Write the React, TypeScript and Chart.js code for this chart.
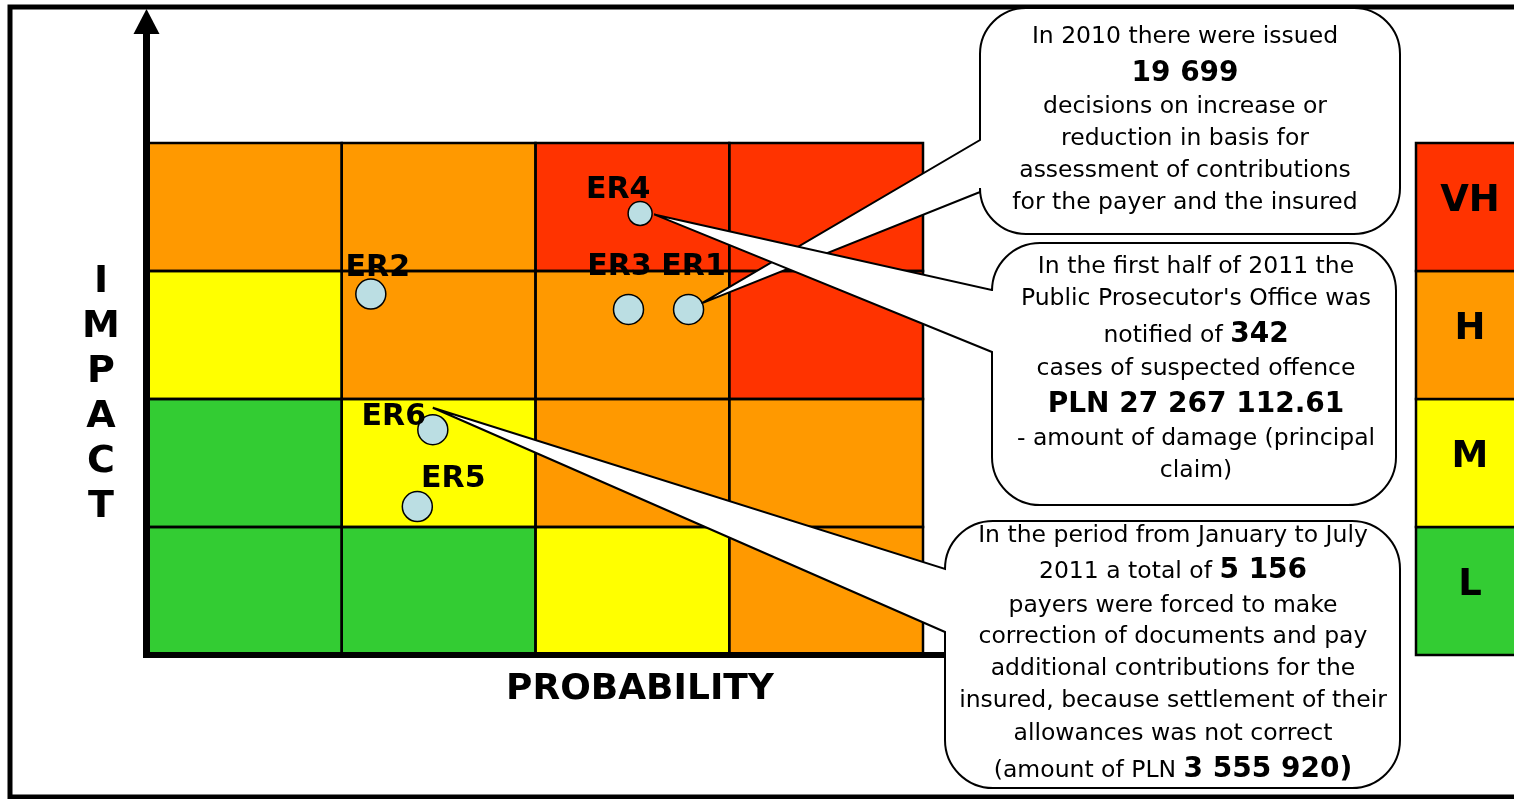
import React, { useEffect, useRef } from "react";
import { Chart, registerables } from "chart.js";

Chart.register(...registerables);

// ---------- data ----------
const riskIds = ["ER1", "ER2", "ER3", "ER4", "ER5", "ER6"];
const probabilityValues = [2.79, 1.15, 2.48, 2.54, 1.39, 1.47];
const impactValues = [2.7, 2.82, 2.7, 3.45, 1.16, 1.76];

// impact levels from bottom (L) to top (VH)
const impactLevels = ["L", "M", "H", "VH"];
// risk level of each matrix cell: rows bottom→top, columns left→right (probability)
const matrixRowL = ["L", "L", "M", "H"];
const matrixRowM = ["L", "M", "H", "H"];
const matrixRowH = ["M", "H", "H", "VH"];
const matrixRowVH = ["H", "H", "VH", "VH"];

const xAxisTitle = "PROBABILITY";
const yAxisTitle = "IMPACT";

type Seg = { t: string; b?: boolean };
const callout1Lines: Seg[][] = [
  [{ t: "In 2010 there were issued" }],
  [{ t: "19 699", b: true }],
  [{ t: "decisions on increase or" }],
  [{ t: "reduction in basis for" }],
  [{ t: "assessment of contributions" }],
  [{ t: "for the payer and the insured" }],
];
const callout2Lines: Seg[][] = [
  [{ t: "In the first half of 2011 the" }],
  [{ t: "Public Prosecutor's Office was" }],
  [{ t: "notified of " }, { t: "342", b: true }],
  [{ t: "cases of suspected offence" }],
  [{ t: "PLN 27 267 112.61", b: true }],
  [{ t: "- amount of damage (principal" }],
  [{ t: "claim)" }],
];
const callout3Lines: Seg[][] = [
  [{ t: "In the period from January to July" }],
  [{ t: "2011 a total of " }, { t: "5 156", b: true }],
  [{ t: "payers were forced to make" }],
  [{ t: "correction of documents and pay" }],
  [{ t: "additional contributions for the" }],
  [{ t: "insured, because settlement of their" }],
  [{ t: "allowances was not correct" }],
  [{ t: "(amount of PLN " }, { t: "3 555 920)", b: true }],
];
const calloutTargets = ["ER1", "ER4", "ER6"];

// ---------- styles / layout ----------
const W = 1514;
const H = 799;
const FONT = "'DejaVu Sans', Verdana, sans-serif";
const levelColors: Record<string, string> = {
  VH: "#FF3300",
  H: "#FF9900",
  M: "#FFFF00",
  L: "#33CC33",
};
const pointFill = "#BBDEE3";
const pointRadii = [15, 15, 15, 12, 15, 15];
const labelOffsets = [
  { dx: 5, dy: -34 },
  { dx: 7, dy: -18 },
  { dx: -9, dy: -34 },
  { dx: -22, dy: -15 },
  { dx: 36, dy: -20 },
  { dx: -39, dy: -5 },
];
const tipOffsets = [
  { dx: 13, dy: -6 },
  { dx: 14, dy: 1 },
  { dx: 0, dy: -22 },
];
const bubbles = [
  { x: 980, y: 8, w: 420, h: 226, r: 46, b1: 140, b2: 192, cx: 1185, baselines: [43, 81, 113, 145, 177, 209] },
  { x: 992, y: 243, w: 404, h: 262, r: 48, b1: 290, b2: 352, cx: 1196, baselines: [273, 305, 342, 375, 412, 445, 477] },
  { x: 945, y: 521, w: 455, h: 267, r: 48, b1: 569, b2: 632, cx: 1173, baselines: [542, 578, 612, 643, 675, 707, 740, 777] },
];

function roundedBubble(
  ctx: CanvasRenderingContext2D,
  b: { x: number; y: number; w: number; h: number; r: number; b1: number; b2: number },
  tip: { x: number; y: number }
) {
  const { x, y, w, h, r, b1, b2 } = b;
  ctx.beginPath();
  ctx.moveTo(x + r, y);
  ctx.lineTo(x + w - r, y);
  ctx.arcTo(x + w, y, x + w, y + r, r);
  ctx.lineTo(x + w, y + h - r);
  ctx.arcTo(x + w, y + h, x + w - r, y + h, r);
  ctx.lineTo(x + r, y + h);
  ctx.arcTo(x, y + h, x, y + h - r, r);
  ctx.lineTo(x, b2);
  ctx.lineTo(tip.x, tip.y);
  ctx.lineTo(x, b1);
  ctx.lineTo(x, y + r);
  ctx.arcTo(x, y, x + r, y, r);
  ctx.closePath();
  ctx.fillStyle = "#FFFFFF";
  ctx.fill();
  ctx.lineWidth = 2;
  ctx.strokeStyle = "#000000";
  ctx.stroke();
}

function drawLines(ctx: CanvasRenderingContext2D, lines: Seg[][], cx: number, baselines: number[]) {
  const reg = `23.5px ${FONT}`;
  const bold = `bold 28px ${FONT}`;
  ctx.fillStyle = "#000000";
  ctx.textBaseline = "alphabetic";
  ctx.textAlign = "left";
  lines.forEach((line, i) => {
    let total = 0;
    const widths = line.map((s) => {
      ctx.font = s.b ? bold : reg;
      const wd = ctx.measureText(s.t).width;
      total += wd;
      return wd;
    });
    let xx = cx - total / 2;
    line.forEach((s, j) => {
      ctx.font = s.b ? bold : reg;
      ctx.fillText(s.t, xx, baselines[i]);
      xx += widths[j];
    });
  });
}

const matrixPlugin = {
  id: "riskMatrix",
  beforeDraw(chart: any) {
    const ctx: CanvasRenderingContext2D = chart.ctx;
    ctx.save();
    ctx.fillStyle = "#FFFFFF";
    ctx.fillRect(0, 0, W, H);
    // outer frame
    ctx.strokeStyle = "#000000";
    ctx.lineWidth = 5;
    ctx.beginPath();
    ctx.moveTo(W + 5, 7);
    ctx.lineTo(10, 7);
    ctx.lineTo(10, 797);
    ctx.lineTo(W + 5, 797);
    ctx.stroke();
    ctx.restore();
  },
  beforeDatasetsDraw(chart: any) {
    const ctx: CanvasRenderingContext2D = chart.ctx;
    const xs = chart.scales.x;
    const ys = chart.scales.y;
    const rows = [matrixRowL, matrixRowM, matrixRowH, matrixRowVH];
    ctx.save();
    // cells
    rows.forEach((row, ri) => {
      row.forEach((lvl, ci) => {
        const x0 = xs.getPixelForValue(ci);
        const x1 = xs.getPixelForValue(ci + 1);
        const y0 = ys.getPixelForValue(ri + 1);
        const y1 = ys.getPixelForValue(ri);
        ctx.fillStyle = levelColors[lvl];
        ctx.fillRect(x0, y0, x1 - x0, y1 - y0);
      });
    });
    ctx.strokeStyle = "#000000";
    ctx.lineWidth = 2.5;
    rows.forEach((row, ri) => {
      row.forEach((_lvl, ci) => {
        const x0 = xs.getPixelForValue(ci);
        const x1 = xs.getPixelForValue(ci + 1);
        const y0 = ys.getPixelForValue(ri + 1);
        const y1 = ys.getPixelForValue(ri);
        ctx.strokeRect(x0, y0, x1 - x0, y1 - y0);
      });
    });

    // legend column (impact levels)
    const lx = 1416;
    impactLevels.forEach((lvl, i) => {
      const y0 = ys.getPixelForValue(i + 1);
      const y1 = ys.getPixelForValue(i);
      ctx.fillStyle = levelColors[lvl];
      ctx.fillRect(lx, y0, W + 10 - lx, y1 - y0);
      ctx.strokeStyle = "#000000";
      ctx.lineWidth = 2.5;
      ctx.strokeRect(lx, y0, W + 10 - lx, y1 - y0);
      ctx.fillStyle = "#000000";
      ctx.font = `bold 37px ${FONT}`;
      ctx.textAlign = "center";
      ctx.textBaseline = "middle";
      ctx.fillText(lvl, 1470, (y0 + y1) / 2 - 6);
    });

    // axes
    const left = chart.chartArea.left;
    const bottom = chart.chartArea.bottom;
    ctx.fillStyle = "#000000";
    ctx.fillRect(left - 5, 30, 7, bottom - 27);
    ctx.fillRect(left - 5, bottom - 3, 945 - left + 5, 6);
    ctx.beginPath();
    ctx.moveTo(left - 1.5, 9);
    ctx.lineTo(left - 14.5, 34);
    ctx.lineTo(left + 11.5, 34);
    ctx.closePath();
    ctx.fill();

    // axis titles
    ctx.font = `bold 36px ${FONT}`;
    ctx.textAlign = "center";
    ctx.textBaseline = "middle";
    ctx.fillText(xAxisTitle, 640, 690);
    ctx.font = `bold 38px ${FONT}`;
    yAxisTitle.split("").forEach((ch, i) => {
      ctx.fillText(ch, 101, 282 + i * 45);
    });
    ctx.restore();
  },
  afterDatasetsDraw(chart: any) {
    const ctx: CanvasRenderingContext2D = chart.ctx;
    const meta = chart.getDatasetMeta(0);
    ctx.save();
    // point labels
    ctx.fillStyle = "#000000";
    ctx.font = `bold 30px ${FONT}`;
    ctx.textAlign = "center";
    ctx.textBaseline = "alphabetic";
    riskIds.forEach((id, i) => {
      const p = meta.data[i];
      ctx.fillText(id, p.x + labelOffsets[i].dx, p.y + labelOffsets[i].dy);
    });
    // callouts
    const allLines = [callout1Lines, callout2Lines, callout3Lines];
    bubbles.forEach((b, k) => {
      const idx = riskIds.indexOf(calloutTargets[k]);
      const p = meta.data[idx];
      const tip = { x: p.x + tipOffsets[k].dx, y: p.y + tipOffsets[k].dy };
      roundedBubble(ctx, b, tip);
      drawLines(ctx, allLines[k], b.cx, b.baselines);
    });
    ctx.restore();
  },
};

export default function App() {
  const ref = useRef<HTMLCanvasElement | null>(null);
  useEffect(() => {
    if (!ref.current) return;
    const chart = new Chart(ref.current, {
      type: "scatter",
      data: {
        datasets: [
          {
            data: riskIds.map((_, i) => ({ x: probabilityValues[i], y: impactValues[i] })),
            pointRadius: pointRadii,
            pointBackgroundColor: pointFill,
            pointBorderColor: "#000000",
            pointBorderWidth: 1.5,
            clip: false as any,
          },
        ],
      },
      options: {
        animation: false,
        responsive: false,
        events: [],
        layout: { padding: { left: 148, top: 143, right: W - 923, bottom: H - 655 } },
        scales: {
          x: { type: "linear", min: 0, max: 4, display: false },
          y: { type: "linear", min: 0, max: 4, display: false },
        },
        plugins: { legend: { display: false }, tooltip: { enabled: false } },
      },
      plugins: [matrixPlugin],
    });
    return () => chart.destroy();
  }, []);
  return (
    <div style={{ position: "absolute", left: 0, top: 0, width: W, height: H, background: "#fff" }}>
      <canvas ref={ref} width={W} height={H} style={{ display: "block" }} />
    </div>
  );
}
